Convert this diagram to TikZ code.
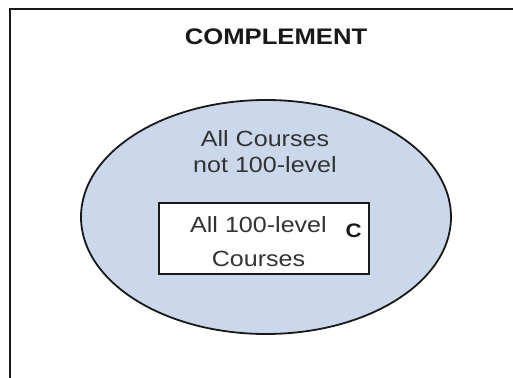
\documentclass[tikz,border=0pt]{standalone}
\usepackage{fontspec}
\setmainfont{Liberation Sans}[FakeStretch=1.14]
\usetikzlibrary{positioning}
\usetikzlibrary{shapes.geometric}
\definecolor{setblue}{RGB}{203,216,235}
\definecolor{settext}{RGB}{51,51,51}

\begin{document}
\begin{tikzpicture}[x=1pt,y=-1pt,
         setline/.style = {draw=black!90,line width=1.8pt},
         setlabel/.style = {text=settext,align=center,
      font=\fontsize{22}{26.5}\selectfont}]

      \useasboundingbox (0,0) rectangle (513,377);
      \clip (0,0) rectangle (513,377);

      % universe, cut off on the right and at the bottom
      \draw[setline] (10,9) rectangle (540,400);
      \node[anchor=base,text=black!90,font=\bfseries\fontsize{22.5}{26}\selectfont]
         (compl) at (276,45) {COMPLEMENT};

      % all courses not 100-level
      \node[ellipse, setline, fill=setblue, inner sep=0pt,
         minimum width=370pt, minimum height=234pt] (notc) at (266,217) {};
      \node[setlabel] (notclabel) at (265,151.8) {All Courses\\not 100-level};

      % all 100-level courses
      \node[rectangle, setline, fill=white, inner sep=0pt,
         minimum width=210pt, minimum height=71pt] (cset) at (264,238.5) {};
      \node[setlabel, font=\fontsize{22}{33.5}\selectfont]
         (csetlabel) at (258.5,241.8) {All 100-level\\Courses};
      \node[left=0pt of cset.east, text=black!90, inner sep=8pt, yshift=8pt,
         font=\bfseries\fontsize{19.5}{20}\selectfont] (clabel) {C};

   \end{tikzpicture}
\end{document}
